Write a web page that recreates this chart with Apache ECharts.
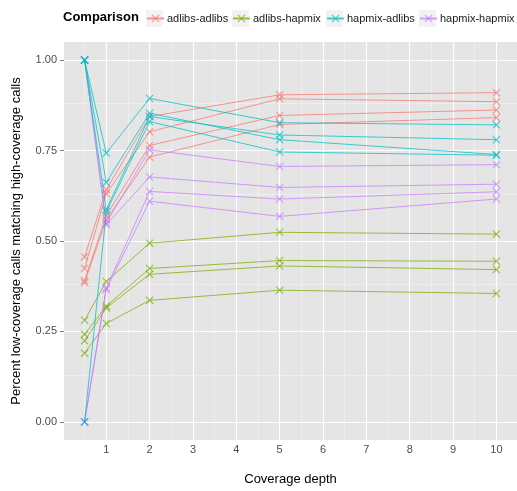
<!DOCTYPE html>
<html>
<head>
<meta charset="utf-8">
<script src="https://cdn.jsdelivr.net/npm/echarts@6/dist/echarts.min.js"></script>
<style>
  html, body { margin: 0; padding: 0; background: #fff; }
  #chart { width: 517px; height: 491px; }
</style>
</head>
<body>
<div id="chart"></div>
<script>
// coverage depths on the x axis
const depths = [0.5, 1, 2, 5, 10]

// one row per sample, values at each depth
const adlibsAdlibs = [
  [0.456, 0.642, 0.844, 0.904, 0.910],
  [0.424, 0.631, 0.802, 0.893, 0.885],
  [0.391, 0.570, 0.764, 0.847, 0.862],
  [0.385, 0.559, 0.732, 0.822, 0.841],
]
const adlibsHapmix = [
  [0.281, 0.388, 0.494, 0.524, 0.519],
  [0.242, 0.320, 0.424, 0.446, 0.444],
  [0.224, 0.315, 0.408, 0.431, 0.421],
  [0.190, 0.272, 0.336, 0.364, 0.355],
]
const hapmixAdlibs = [
  [1.0, 0.743, 0.894, 0.827, 0.821],
  [1.0, 0.662, 0.853, 0.780, 0.739],
  [1.0, 0.587, 0.844, 0.793, 0.780],
  [0.0, 0.580, 0.830, 0.746, 0.737],
]
const hapmixHapmix = [
  [1.0, 0.550, 0.752, 0.706, 0.711],
  [1.0, 0.545, 0.677, 0.648, 0.657],
  [0.0, 0.370, 0.637, 0.616, 0.636],
  [0.0, 0.366, 0.610, 0.568, 0.616],
]

const groupNames = ['adlibs-adlibs', 'adlibs-hapmix', 'hapmix-adlibs', 'hapmix-hapmix']
const groupData = [adlibsAdlibs, adlibsHapmix, hapmixAdlibs, hapmixHapmix]
const colors = ['#F8766D', '#7CAE00', '#00BFC4', '#C77CFF']
// cyan sits over purple where they share a point
const groupZ = [3, 3, 5, 4]

// tick / grid breaks
const xBreaks = [1, 2, 3, 4, 5, 6, 7, 8, 9, 10]
const xMinor = [0.5, 1.5, 2.5, 3.5, 4.5, 5.5, 6.5, 7.5, 8.5, 9.5]
const yBreaks = [0, 0.25, 0.5, 0.75, 1]
const yMinor = [0.125, 0.375, 0.625, 0.875]

const crossPath = 'path://M0,1L1,0L5,4L9,0L10,1L6,5L10,9L9,10L5,6L1,10L0,9L4,5Z'
const font = 'Liberation Sans, Arial, sans-serif'

const chart = echarts.init(document.getElementById('chart'))

const gridLineSeries = {
  type: 'line',
  name: 'grid',
  data: [],
  silent: true,
  symbol: 'none',
  markLine: {
    silent: true,
    z: 1,
    symbol: ['none', 'none'],
    label: { show: false },
    emphasis: { disabled: true },
    animation: false,
    data: [
      ...xMinor.map((v) => ({ xAxis: v, lineStyle: { color: '#F2F2F2', width: 0.7, type: 'solid' } })),
      ...yMinor.map((v) => ({ yAxis: v, lineStyle: { color: '#F2F2F2', width: 0.7, type: 'solid' } })),
      ...xBreaks.map((v) => ({ xAxis: v, lineStyle: { color: '#FFFFFF', width: 1.1, type: 'solid' } })),
      ...yBreaks.map((v) => ({ yAxis: v, lineStyle: { color: '#FFFFFF', width: 1.1, type: 'solid' } })),
    ],
  },
}

const getSeries = () => {
  const series = [gridLineSeries]
  groupData.forEach((rows, g) => {
    rows.forEach((row) => {
      series.push({
        type: 'line',
        name: groupNames[g],
        z: groupZ[g],
        data: depths.map((d, i) => [d, row[i]]),
        symbol: crossPath,
        symbolSize: 8,
        showAllSymbol: true,
        lineStyle: { color: colors[g], width: 1, opacity: 0.75 },
        itemStyle: { color: colors[g], opacity: 0.7 },
        emphasis: { disabled: true },
      })
    })
  })
  return series
}

const keyLeft = [146, 232, 326, 419]
const legends = groupNames.map((name, g) => ({
  data: [name],
  left: keyLeft[g],
  top: 13,
  padding: 0,
  itemWidth: 17,
  itemHeight: 10,
  itemGap: 0,
  selectedMode: false,
  textStyle: { fontFamily: font, fontSize: 11, color: '#1A1A1A', padding: [0, 0, 0, -2] },
}))

const option = {
  animation: false,
  backgroundColor: '#FFFFFF',
  textStyle: { fontFamily: font },
  grid: {
    left: 64,
    right: 0,
    top: 42,
    bottom: 50,
    show: true,
    backgroundColor: '#E5E5E5',
    borderWidth: 0,
  },
  graphic: [
    {
      type: 'text',
      left: 63,
      top: 11,
      style: { text: 'Comparison', font: 'bold 13px ' + font, fill: '#000' },
    },
    ...keyLeft.map((x) => ({
      type: 'rect',
      shape: { x: x, y: 10, width: 17, height: 17 },
      style: { fill: '#F2F2F2' },
      z: -1,
    })),
  ],
  legend: legends,
  xAxis: {
    type: 'value',
    min: 0.025,
    max: 10.475,
    name: 'Coverage depth',
    nameLocation: 'middle',
    nameGap: 33,
    nameTextStyle: { fontSize: 13, color: '#000', fontFamily: font },
    axisLine: { show: false },
    splitLine: { show: false },
    axisTick: { show: true, customValues: xBreaks, length: 4, lineStyle: { color: '#7F7F7F' } },
    axisLabel: { customValues: xBreaks, margin: 4, fontSize: 11, color: '#4D4D4D', fontFamily: font },
  },
  yAxis: {
    type: 'value',
    min: -0.05,
    max: 1.05,
    name: 'Percent low-coverage calls matching high-coverage calls',
    nameLocation: 'middle',
    nameGap: 41,
    nameTextStyle: { fontSize: 13, color: '#000', fontFamily: font },
    axisLine: { show: false },
    splitLine: { show: false },
    axisTick: { show: true, customValues: yBreaks, length: 4, lineStyle: { color: '#7F7F7F' } },
    axisLabel: {
      customValues: yBreaks,
      margin: 7,
      fontSize: 11,
      color: '#4D4D4D',
      fontFamily: font,
      formatter: (v) => v.toFixed(2),
    },
  },
  series: getSeries(),
}

chart.setOption(option)
</script>
</body>
</html>
